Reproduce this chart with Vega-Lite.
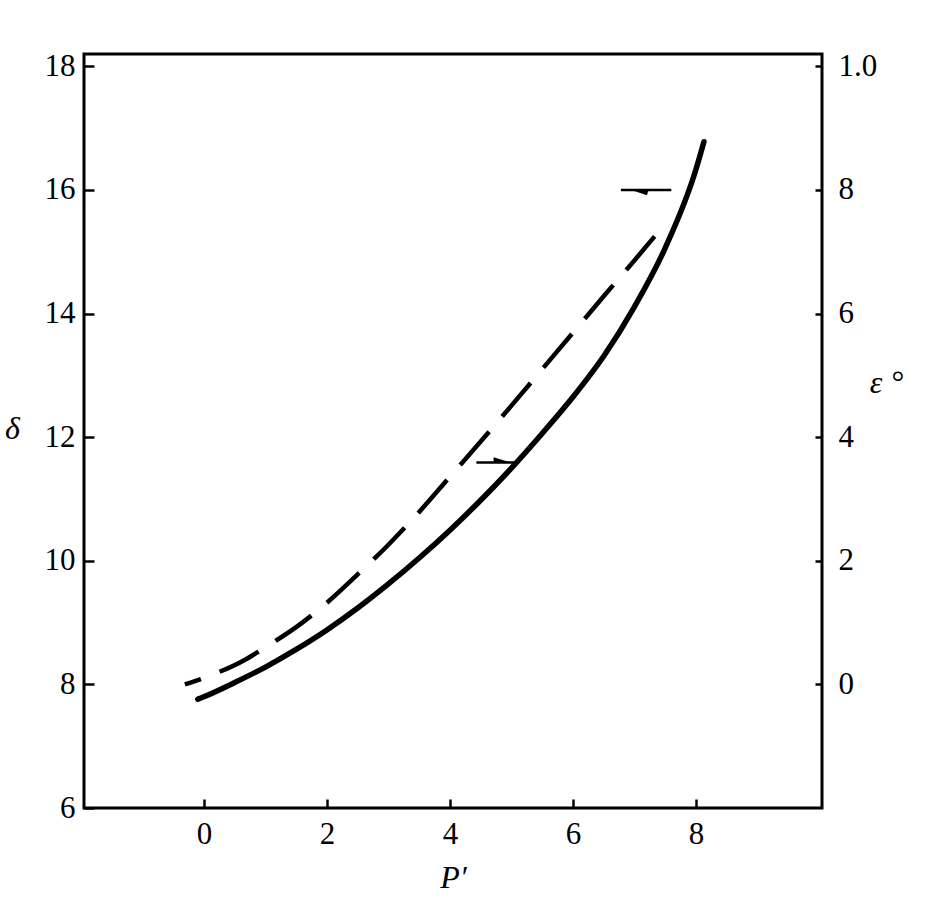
{
  "$schema": "https://vega.github.io/schema/vega-lite/v6.json",
  "width": 738,
  "height": 754,
  "autosize": {"type": "none"},
  "padding": {"left": 84, "top": 54, "right": 111, "bottom": 104},
  "background": "white",
  "config": {
    "view": {"stroke": "black", "strokeWidth": 3},
    "axis": {
      "domain": false,
      "grid": false,
      "tickColor": "black",
      "tickWidth": 2.5,
      "labelFont": "Liberation Serif",
      "labelFontSize": 31,
      "labelColor": "black",
      "titleFont": "Liberation Serif",
      "titleFontSize": 32,
      "titleFontStyle": "italic",
      "titleFontWeight": "normal",
      "titleColor": "black",
      "labelOverlap": false,
      "labelFlush": false
    }
  },
  "datasets": {
    "solid": [
      {"P": -0.1, "delta": 7.76},
      {"P": 0.0, "delta": 7.8},
      {"P": 0.5, "delta": 8.03},
      {"P": 1.0, "delta": 8.28},
      {"P": 1.5, "delta": 8.565},
      {"P": 2.0, "delta": 8.88},
      {"P": 2.5, "delta": 9.235},
      {"P": 3.0, "delta": 9.625},
      {"P": 3.5, "delta": 10.045},
      {"P": 4.0, "delta": 10.495},
      {"P": 4.5, "delta": 10.98},
      {"P": 5.0, "delta": 11.5},
      {"P": 5.5, "delta": 12.06},
      {"P": 6.0, "delta": 12.65},
      {"P": 6.5, "delta": 13.31},
      {"P": 7.0, "delta": 14.11},
      {"P": 7.5, "delta": 15.06},
      {"P": 8.0, "delta": 16.33},
      {"P": 8.13, "delta": 16.78}
    ],
    "dashed": [
      {"P": -0.31, "epsilon": 0.0},
      {"P": 0.12, "epsilon": 0.15},
      {"P": 0.67, "epsilon": 0.4},
      {"P": 1.0, "epsilon": 0.6},
      {"P": 1.6, "epsilon": 1.0},
      {"P": 2.0, "epsilon": 1.32},
      {"P": 2.5, "epsilon": 1.78},
      {"P": 3.0, "epsilon": 2.26},
      {"P": 3.5, "epsilon": 2.79},
      {"P": 4.0, "epsilon": 3.36},
      {"P": 4.5, "epsilon": 3.93},
      {"P": 5.0, "epsilon": 4.51},
      {"P": 5.5, "epsilon": 5.1},
      {"P": 6.0, "epsilon": 5.69},
      {"P": 6.5, "epsilon": 6.28},
      {"P": 7.0, "epsilon": 6.86},
      {"P": 7.33, "epsilon": 7.25}
    ],
    "arrows": [
      {"x_start": 6.78, "x_end": 7.6, "x_head": 7.09, "delta": 16.0, "direction": "left"},
      {"x_start": 4.43, "x_end": 5.08, "x_head": 4.85, "delta": 11.59, "direction": "right"}
    ]
  },
  "layer": [
    {
      "layer": [
        {
          "data": {"name": "solid"},
          "mark": {"type": "line", "color": "black", "strokeWidth": 5.5, "interpolate": "monotone", "strokeCap": "round"},
          "encoding": {
            "x": {
              "field": "P",
              "type": "quantitative",
              "scale": {"domain": [-1.95, 10.05], "nice": false, "zero": false},
              "axis": {
                "values": [0, 2, 4, 6, 8],
                "format": "d",
                "tickSize": -9,
                "labelPadding": 44,
                "labelBaseline": "alphabetic",
                "title": "P′",
                "titleBaseline": "alphabetic",
                "titleAnchor": "middle",
                "titleY": 79
              }
            },
            "y": {
              "field": "delta",
              "type": "quantitative",
              "scale": {"domain": [6, 18.2], "nice": false, "zero": false},
              "axis": {
                "values": [6, 8, 10, 12, 14, 16, 18],
                "format": "d",
                "tickSize": -10,
                "labelPadding": 19,
                "title": "δ",
                "titleAngle": 0,
                "titleAlign": "center",
                "titleBaseline": "middle",
                "titleX": -72,
                "titleY": 374
              }
            }
          }
        },
        {
          "data": {"name": "arrows"},
          "mark": {"type": "rule", "color": "black", "strokeWidth": 2.5},
          "encoding": {
            "x": {"field": "x_start", "type": "quantitative"},
            "x2": {"field": "x_end"},
            "y": {"field": "delta", "type": "quantitative"}
          }
        },
        {
          "data": {"name": "arrows"},
          "mark": {"type": "point", "filled": true, "color": "black", "opacity": 1, "size": 300, "strokeWidth": 0},
          "encoding": {
            "x": {"field": "x_head", "type": "quantitative"},
            "y": {"field": "delta", "type": "quantitative"},
            "shape": {
              "field": "direction",
              "type": "nominal",
              "scale": {"domain": ["left", "right"], "range": ["M -1 0 L 1 0 L 0.8 0.6 Z", "M -1 -0.6 L 1 0 L -1 0 Z"]},
              "legend": null
            }
          }
        }
      ]
    },
    {
      "data": {"name": "dashed"},
      "mark": {"type": "line", "color": "black", "strokeWidth": 4.5, "interpolate": "monotone", "strokeDash": [44, 20], "strokeDashOffset": 27},
      "encoding": {
        "x": {"field": "P", "type": "quantitative"},
        "y": {
          "field": "epsilon",
          "type": "quantitative",
          "scale": {"domain": [-2, 10.2], "nice": false, "zero": false},
          "axis": {
            "orient": "right",
            "values": [0, 2, 4, 6, 8, 10],
            "labelExpr": "datum.value == 10 ? '1.0' : datum.label",
            "tickSize": -7,
            "labelPadding": 23,
            "title": "ε °",
            "titleAngle": 0,
            "titleAlign": "center",
            "titleBaseline": "middle",
            "titleX": 64,
            "titleY": 328
          }
        }
      }
    }
  ],
  "resolve": {"scale": {"y": "independent"}}
}
